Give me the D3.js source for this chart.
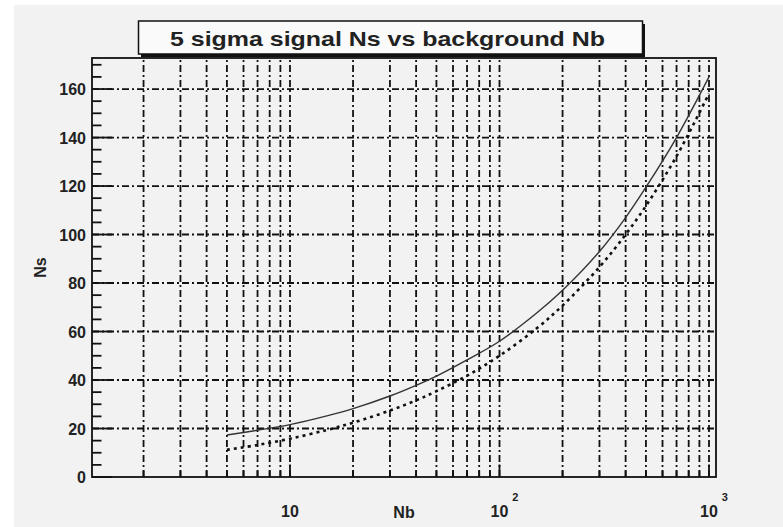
<!doctype html>
<html>
<head>
  <meta charset="utf-8">
  <title>5 sigma signal Ns vs background Nb</title>
  <style>
    body { margin: 0; background: #fff; }
    svg { display: block; }
    text { font-family: "Liberation Sans", Arial, sans-serif; font-weight: bold; fill: #222; }
  </style>
</head>
<body>
  <div class="graphContainer"></div>
  <script src="https://cdn.jsdelivr.net/npm/d3@7"></script>
  <script>

// values
var nb = [5, 7, 10, 15, 20, 30, 40, 50, 70, 100, 150, 200, 300, 400, 500, 700, 1000];
var nsSolid = [17.3, 19.3, 21.6, 25.2, 28.2, 33.4, 37.8, 41.6, 48.3, 56, 67.5, 77, 93, 107, 119.5, 140, 165];
var nsDotted = [11.2, 13.2, 15.8, 19.4, 22.4, 27.4, 31.6, 35.4, 41.8, 50, 61.2, 70.7, 86.6, 100, 111.8, 132.3, 158.1];

var yMajor = [0, 20, 40, 60, 80, 100, 120, 140, 160];
var yMinor = [5, 10, 15, 25, 30, 35, 45, 50, 55, 65, 70, 75, 85, 90, 95, 105, 110, 115, 125, 130, 135, 145, 150, 155, 165, 170];
var xMajor = [10, 100, 1000];
var xMinor = [2, 3, 4, 5, 6, 7, 8, 9, 20, 30, 40, 50, 60, 70, 80, 90, 200, 300, 400, 500, 600, 700, 800, 900];
var xLabels = [{v: 10, base: "10", exp: ""}, {v: 100, base: "10", exp: "2"}, {v: 1000, base: "10", exp: "3"}];

function drawChart() {
    var w = 783,
        h = 527;

    var left = 92, right = 716, top = 58, bottom = 477;

    var svg = d3.select(".graphContainer")
        .append("svg")
        .attr("width", w)
        .attr("height", h);

    // canvas background
    svg.append("rect")
        .attr("x", 14).attr("y", 5)
        .attr("width", w - 14).attr("height", h - 5)
        .attr("fill", "#f2f2f2");

    var x = d3.scaleLog().domain([1.135, 1080]).range([left, right]);
    var y = d3.scaleLinear().domain([0, 172.8]).range([bottom, top]);

    var gridDash = "7,3,2,3";

    // vertical grid
    svg.append("g").selectAll("line")
        .data(xMinor.concat(xMajor))
        .enter().append("line")
        .attr("x1", d => x(d)).attr("x2", d => x(d))
        .attr("y1", bottom).attr("y2", top)
        .attr("stroke", "#111").attr("stroke-width", 1.8)
        .attr("stroke-dasharray", gridDash);

    // horizontal grid
    svg.append("g").selectAll("line")
        .data(yMajor.slice(1))
        .enter().append("line")
        .attr("x1", left).attr("x2", right)
        .attr("y1", d => y(d)).attr("y2", d => y(d))
        .attr("stroke", "#111").attr("stroke-width", 1.8)
        .attr("stroke-dasharray", gridDash);

    // y ticks (inside)
    svg.append("g").selectAll("line")
        .data(yMajor)
        .enter().append("line")
        .attr("x1", left).attr("x2", left + 20)
        .attr("y1", d => y(d)).attr("y2", d => y(d))
        .attr("stroke", "#111").attr("stroke-width", 1.8);
    svg.append("g").selectAll("line")
        .data(yMinor)
        .enter().append("line")
        .attr("x1", left).attr("x2", left + 9.5)
        .attr("y1", d => y(d)).attr("y2", d => y(d))
        .attr("stroke", "#111").attr("stroke-width", 1.8);

    // x ticks (inside)
    svg.append("g").selectAll("line")
        .data(xMajor)
        .enter().append("line")
        .attr("x1", d => x(d)).attr("x2", d => x(d))
        .attr("y1", bottom).attr("y2", bottom - 12.5)
        .attr("stroke", "#111").attr("stroke-width", 1.8);
    svg.append("g").selectAll("line")
        .data(xMinor)
        .enter().append("line")
        .attr("x1", d => x(d)).attr("x2", d => x(d))
        .attr("y1", bottom).attr("y2", bottom - 6.5)
        .attr("stroke", "#111").attr("stroke-width", 1.8);

    // frame
    svg.append("rect")
        .attr("x", left).attr("y", top)
        .attr("width", right - left).attr("height", bottom - top)
        .attr("fill", "none")
        .attr("stroke", "#111").attr("stroke-width", 1.8);

    // curves
    var line = d3.line()
        .x(d => x(d[0]))
        .y(d => y(d[1]))
        .curve(d3.curveCatmullRom);

    svg.append("path")
        .datum(d3.zip(nb, nsSolid))
        .attr("d", line)
        .attr("fill", "none")
        .attr("stroke", "#333").attr("stroke-width", 1.4);

    svg.append("path")
        .datum(d3.zip(nb, nsDotted))
        .attr("d", line)
        .attr("fill", "none")
        .attr("stroke", "#111").attr("stroke-width", 2.6)
        .attr("stroke-dasharray", "3,4");

    // y labels
    svg.append("g").selectAll("text")
        .data(yMajor)
        .enter().append("text")
        .attr("x", left - 6)
        .attr("y", d => y(d) + 6)
        .attr("text-anchor", "end")
        .attr("font-size", 16)
        .text(d => d);

    // x labels
    var xl = svg.append("g").selectAll("text")
        .data(xLabels)
        .enter().append("text")
        .attr("x", d => x(d.v) - 9)
        .attr("y", 517)
        .attr("font-size", 16);
    xl.append("tspan").text(d => d.base);
    xl.append("tspan")
        .attr("dx", 4).attr("dy", -16)
        .attr("font-size", 11)
        .text(d => d.exp);

    // axis titles
    svg.append("text")
        .attr("x", (left + right) / 2)
        .attr("y", 518)
        .attr("text-anchor", "middle")
        .attr("font-size", 16)
        .text("Nb");

    svg.append("text")
        .attr("transform", "translate(46," + ((top + bottom) / 2) + ") rotate(-90)")
        .attr("text-anchor", "middle")
        .attr("font-size", 16)
        .text("Ns");

    // title box with shadow
    svg.append("rect")
        .attr("x", 141).attr("y", 24)
        .attr("width", 504).attr("height", 33)
        .attr("fill", "#111");
    svg.append("rect")
        .attr("x", 138.5).attr("y", 21)
        .attr("width", 504).attr("height", 33)
        .attr("fill", "#fafafa")
        .attr("stroke", "#111").attr("stroke-width", 1.5);
    svg.append("text")
        .attr("x", 387.5)
        .attr("y", 46)
        .attr("text-anchor", "middle")
        .attr("font-size", 21)
        .attr("textLength", 435)
        .attr("lengthAdjust", "spacingAndGlyphs")
        .text("5 sigma signal Ns vs background Nb");
}

drawChart();

  </script>
</body>
</html>
